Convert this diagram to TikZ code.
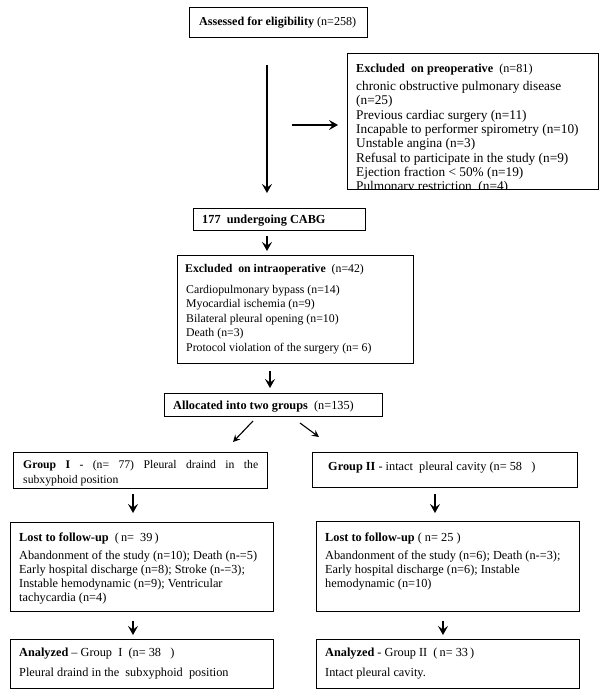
\documentclass[tikz,border=0pt]{standalone}
\usepackage{fontspec}
\setmainfont{Liberation Serif}
\usetikzlibrary{arrows.meta}
\tikzset{
  box/.style={draw, line width=1pt, anchor=north west, inner sep=0pt},
  txt/.style={anchor=base west, inner sep=0pt, font=\fontsize{12.3}{14}\selectfont},
  arr/.style={line width=1.8pt, -{Stealth[length=9pt,width=10pt,inset=3.5pt]}},
  darr/.style={line width=1.1pt, -{Stealth[length=7pt,width=7pt,inset=2.5pt]}},
}
\begin{document}
\begin{tikzpicture}[x=1pt,y=-1pt]
\useasboundingbox[fill=white] (0,0) rectangle (600,697);

% boxes
\node[box, minimum width=178, minimum height=30] (assess) at (189,7) {};
\node[box, minimum width=251, minimum height=136] (preop) at (347,53) {};
\node[box, minimum width=172, minimum height=22] (cabg) at (193,208) {};
\node[box, minimum width=236, minimum height=108] (intra) at (177,255) {};
\node[box, minimum width=218, minimum height=23] (alloc) at (164,393) {};
\node[box, minimum width=254, minimum height=36] (g1) at (13,452) {};
\node[box, minimum width=265, minimum height=35] (g2) at (312,452) {};
\node[box, minimum width=263, minimum height=89] (lost1) at (10,522) {};
\node[box, minimum width=263, minimum height=90] (lost2) at (316,521) {};
\node[box, minimum width=263, minimum height=49] (an1) at (10,639) {};
\node[box, minimum width=263, minimum height=49] (an2) at (316,639) {};

% texts
\node[txt, font=\fontsize{12.1}{14}\selectfont] (t-assess) at (199,25) {\textbf{Assessed for eligibility} (n=258)};

\node[txt, font=\fontsize{12.2}{14}\selectfont] (t-preop) at (356,72) {\textbf{Excluded\ \ on preoperative}\ \ (n=81)};
\begin{scope}
\clip (347.5,53.5) rectangle (597.5,188.5);
\foreach \t [count=\i] in {chronic obstructive pulmonary disease, (n=25), Previous cardiac surgery (n=11), Incapable to performer spirometry (n=10), Unstable angina (n=3), Refusal to participate in the study (n=9), Ejection fraction < 50\% (n=19), Pulmonary restriction\ \ (n=4)}
  \node[txt, font=\fontsize{13.3}{14}\selectfont] (preop-\i) at (356,{90.5+(\i-1)*14.3}) {\t};
\end{scope}

\node[txt] (t-cabg) at (202,223) {\textbf{177\ \ undergoing CABG}};

\node[txt, font=\fontsize{11.8}{14}\selectfont] (t-intra) at (185,272.5) {\textbf{Excluded\ \ on intraoperative}\ \ (n=42)};
\foreach \t [count=\i] in {Cardiopulmonary bypass (n=14), Myocardial ischemia (n=9), Bilateral pleural opening (n=10), Death (n=3), Protocol violation of the surgery (n= 6)}
  \node[txt, font=\fontsize{11.8}{14}\selectfont] (intra-\i) at (186,{293+(\i-1)*14.5}) {\t};

\node[txt] (t-alloc) at (173,409) {\textbf{Allocated into two groups}\ \ (n=135)};

\node[txt, font=\fontsize{11.7}{14}\selectfont] (t-g1a) at (23,468) {\makebox[235pt][s]{\textbf{Group I} - (n= 77) Pleural draind in the}};
\node[txt, font=\fontsize{11.7}{14}\selectfont] (t-g1b) at (23,483) {subxyphoid\ position};
\node[txt] (t-g2) at (328,470) {\textbf{Group II} - intact\ \ pleural cavity (n= 58\ \ \ )};

\node[txt] (t-lost1) at (19,541) {\textbf{Lost to follow-up}\ \ (\,n=\ \ 39\,)};
\foreach \t [count=\i] in {Abandonment of the study (n=10); Death (n-=5), Early hospital discharge (n=8); Stroke (n-=3);, Instable hemodynamic (n=9); Ventricular, tachycardia (n=4)}
  \node[txt] (lost1-\i) at (19,{559+(\i-1)*14.3}) {\t};

\node[txt] (t-lost2) at (325,541) {\textbf{Lost to follow-up}\ ( n= 25\ )};
\foreach \t [count=\i] in {Abandonment of the study (n=6); Death (n-=3);, Early hospital discharge (n=6); Instable, hemodynamic (n=10)}
  \node[txt] (lost2-\i) at (325,{559+(\i-1)*14.3}) {\t};

\node[txt] (t-an1) at (19,656) {\textbf{Analyzed} -- Group\ \ I\ \ (n= 38\ \ \ )};
\node[txt] (t-an1b) at (19,676) {Pleural draind in the\ \ subxyphoid\ \ position};
\node[txt] (t-an2) at (325,656) {\textbf{Analyzed} - Group II\ \ (\,n= 33\,)};
\node[txt] (t-an2b) at (325,676) {Intact pleural cavity.};

% connectors
\coordinate (vtop) at (267,65);
\coordinate (vbot) at (267,193);
\draw[arr] (vtop) -- (vbot);
\coordinate (hleft) at (292,125);
\draw[arr, shorten >=9pt] (hleft) -- (preop.west |- hleft);
\draw[arr, shorten <=5pt, shorten >=4pt] (cabg.south -| vtop) -- (intra.north -| vtop);
\draw[arr, shorten <=7pt, shorten >=5pt] (intra.south -| 270,0) -- (alloc.north -| 270,0);
\coordinate (d1a) at (253,421);
\coordinate (d1b) at (233,442);
\coordinate (d2a) at (300,423);
\coordinate (d2b) at (319,437);
\draw[darr] (d1a) -- (d1b);
\draw[darr] (d2a) -- (d2b);
\draw[arr, shorten <=5pt, shorten >=9pt] (g1.south -| 133,0) -- (lost1.north -| 133,0);
\draw[arr, shorten <=6pt, shorten >=8pt] (g2.south -| 435,0) -- (lost2.north -| 435,0);
\draw[arr, shorten <=9pt, shorten >=4pt] (lost1.south -| 133,0) -- (an1.north -| 133,0);
\draw[arr, shorten <=9pt, shorten >=4pt] (lost2.south -| 443,0) -- (an2.north -| 443,0);
\end{tikzpicture}
\end{document}
